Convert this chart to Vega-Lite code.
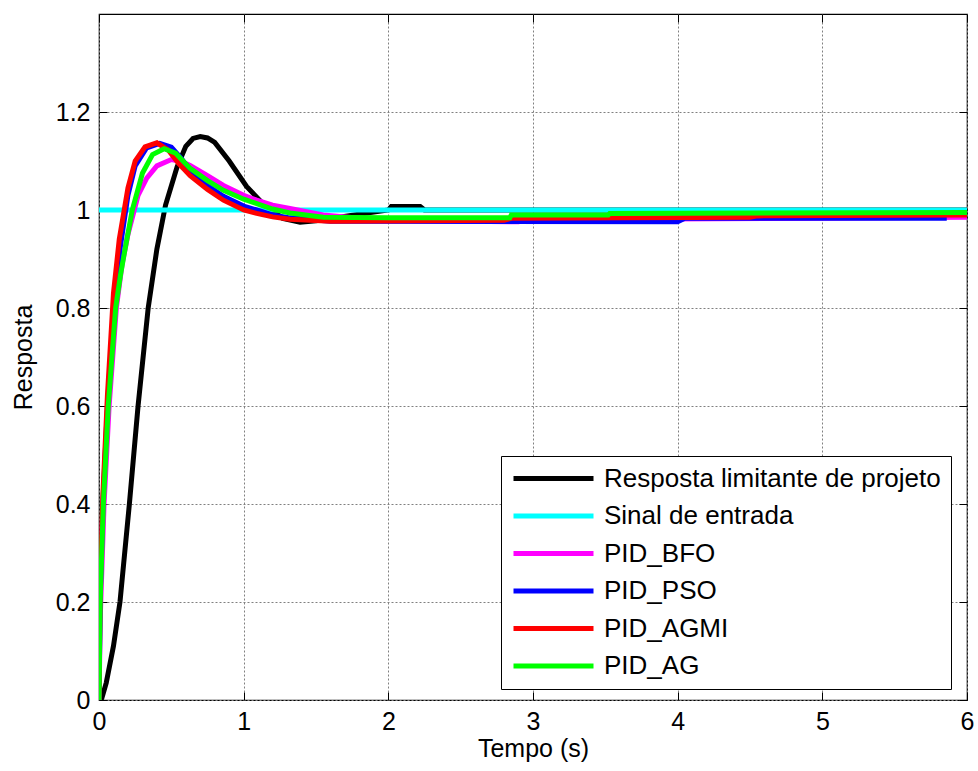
{
  "$schema": "https://vega.github.io/schema/vega-lite/v6.json",
  "width": 868,
  "height": 686,
  "autosize": {"type": "none"},
  "padding": {"left": 99, "top": 14, "right": 11, "bottom": 71},
  "background": "white",
  "config": {
    "font": "Liberation Sans",
    "view": {"stroke": "#000000", "strokeWidth": 1.2},
    "axis": {
      "labelFont": "Liberation Sans",
      "titleFont": "Liberation Sans",
      "labelFontSize": 25,
      "titleFontSize": 25,
      "labelColor": "#000000",
      "titleColor": "#000000",
      "titleFontWeight": "normal",
      "tickColor": "#000000",
      "domain": false,
      "gridColor": "#808080",
      "gridDash": [2, 2],
      "gridWidth": 1,
      "gridOpacity": 1
    }
  },
  "data": {
    "values": [
      {"s": "Resposta limitante de projeto", "t": 0, "v": 0},
      {"s": "Resposta limitante de projeto", "t": 0.02, "v": 0.004},
      {"s": "Resposta limitante de projeto", "t": 0.05, "v": 0.035},
      {"s": "Resposta limitante de projeto", "t": 0.1, "v": 0.11},
      {"s": "Resposta limitante de projeto", "t": 0.145, "v": 0.2},
      {"s": "Resposta limitante de projeto", "t": 0.21, "v": 0.4},
      {"s": "Resposta limitante de projeto", "t": 0.27, "v": 0.6},
      {"s": "Resposta limitante de projeto", "t": 0.34, "v": 0.8},
      {"s": "Resposta limitante de projeto", "t": 0.4, "v": 0.92},
      {"s": "Resposta limitante de projeto", "t": 0.46, "v": 1.01},
      {"s": "Resposta limitante de projeto", "t": 0.54, "v": 1.088},
      {"s": "Resposta limitante de projeto", "t": 0.6, "v": 1.13},
      {"s": "Resposta limitante de projeto", "t": 0.65, "v": 1.146},
      {"s": "Resposta limitante de projeto", "t": 0.7, "v": 1.15},
      {"s": "Resposta limitante de projeto", "t": 0.75, "v": 1.147},
      {"s": "Resposta limitante de projeto", "t": 0.8, "v": 1.138},
      {"s": "Resposta limitante de projeto", "t": 0.9, "v": 1.1},
      {"s": "Resposta limitante de projeto", "t": 1.02, "v": 1.048},
      {"s": "Resposta limitante de projeto", "t": 1.13, "v": 1.014},
      {"s": "Resposta limitante de projeto", "t": 1.27, "v": 0.983},
      {"s": "Resposta limitante de projeto", "t": 1.39, "v": 0.975},
      {"s": "Resposta limitante de projeto", "t": 1.5, "v": 0.978},
      {"s": "Resposta limitante de projeto", "t": 1.65, "v": 0.985},
      {"s": "Resposta limitante de projeto", "t": 1.83, "v": 0.993},
      {"s": "Resposta limitante de projeto", "t": 2.0, "v": 1.0},
      {"s": "Resposta limitante de projeto", "t": 2.02, "v": 1.007},
      {"s": "Resposta limitante de projeto", "t": 2.22, "v": 1.007},
      {"s": "Resposta limitante de projeto", "t": 2.25, "v": 1.0},
      {"s": "Resposta limitante de projeto", "t": 6, "v": 1.0},
      {"s": "Sinal de entrada", "t": 0, "v": 1},
      {"s": "Sinal de entrada", "t": 6, "v": 1},
      {"s": "PID_BFO", "t": 0, "v": 0},
      {"s": "PID_BFO", "t": 0.01, "v": 0.18},
      {"s": "PID_BFO", "t": 0.035, "v": 0.4},
      {"s": "PID_BFO", "t": 0.07, "v": 0.6},
      {"s": "PID_BFO", "t": 0.12, "v": 0.8},
      {"s": "PID_BFO", "t": 0.16, "v": 0.89},
      {"s": "PID_BFO", "t": 0.2, "v": 0.95},
      {"s": "PID_BFO", "t": 0.27, "v": 1.03},
      {"s": "PID_BFO", "t": 0.33, "v": 1.065},
      {"s": "PID_BFO", "t": 0.4, "v": 1.09},
      {"s": "PID_BFO", "t": 0.5, "v": 1.103},
      {"s": "PID_BFO", "t": 0.57, "v": 1.099},
      {"s": "PID_BFO", "t": 0.63, "v": 1.091},
      {"s": "PID_BFO", "t": 0.75, "v": 1.07},
      {"s": "PID_BFO", "t": 0.86, "v": 1.05},
      {"s": "PID_BFO", "t": 1.0, "v": 1.03},
      {"s": "PID_BFO", "t": 1.09, "v": 1.02},
      {"s": "PID_BFO", "t": 1.2, "v": 1.01},
      {"s": "PID_BFO", "t": 1.32, "v": 1.003},
      {"s": "PID_BFO", "t": 1.55, "v": 0.99},
      {"s": "PID_BFO", "t": 1.8, "v": 0.983},
      {"s": "PID_BFO", "t": 2.0, "v": 0.979},
      {"s": "PID_BFO", "t": 2.9, "v": 0.976},
      {"s": "PID_BFO", "t": 2.95, "v": 0.98},
      {"s": "PID_BFO", "t": 6, "v": 0.985},
      {"s": "PID_PSO", "t": 0, "v": 0},
      {"s": "PID_PSO", "t": 0.008, "v": 0.21},
      {"s": "PID_PSO", "t": 0.028, "v": 0.41},
      {"s": "PID_PSO", "t": 0.06, "v": 0.61},
      {"s": "PID_PSO", "t": 0.105, "v": 0.81},
      {"s": "PID_PSO", "t": 0.145, "v": 0.92},
      {"s": "PID_PSO", "t": 0.2, "v": 1.03},
      {"s": "PID_PSO", "t": 0.25, "v": 1.09},
      {"s": "PID_PSO", "t": 0.33, "v": 1.127},
      {"s": "PID_PSO", "t": 0.42, "v": 1.136},
      {"s": "PID_PSO", "t": 0.5, "v": 1.128},
      {"s": "PID_PSO", "t": 0.57, "v": 1.105},
      {"s": "PID_PSO", "t": 0.63, "v": 1.08},
      {"s": "PID_PSO", "t": 0.75, "v": 1.05},
      {"s": "PID_PSO", "t": 0.86, "v": 1.028},
      {"s": "PID_PSO", "t": 1.0, "v": 1.008},
      {"s": "PID_PSO", "t": 1.09, "v": 1.0},
      {"s": "PID_PSO", "t": 1.2, "v": 0.99},
      {"s": "PID_PSO", "t": 1.32, "v": 0.984},
      {"s": "PID_PSO", "t": 1.6, "v": 0.977},
      {"s": "PID_PSO", "t": 4.0, "v": 0.976},
      {"s": "PID_PSO", "t": 4.05, "v": 0.983},
      {"s": "PID_PSO", "t": 5.86, "v": 0.983},
      {"s": "PID_AGMI", "t": 0, "v": 0},
      {"s": "PID_AGMI", "t": 0.007, "v": 0.22},
      {"s": "PID_AGMI", "t": 0.027, "v": 0.42},
      {"s": "PID_AGMI", "t": 0.058, "v": 0.62},
      {"s": "PID_AGMI", "t": 0.1, "v": 0.83},
      {"s": "PID_AGMI", "t": 0.14, "v": 0.94},
      {"s": "PID_AGMI", "t": 0.2, "v": 1.045},
      {"s": "PID_AGMI", "t": 0.25, "v": 1.1},
      {"s": "PID_AGMI", "t": 0.318, "v": 1.129},
      {"s": "PID_AGMI", "t": 0.4, "v": 1.137},
      {"s": "PID_AGMI", "t": 0.48, "v": 1.122},
      {"s": "PID_AGMI", "t": 0.55, "v": 1.095},
      {"s": "PID_AGMI", "t": 0.63, "v": 1.07},
      {"s": "PID_AGMI", "t": 0.75, "v": 1.042},
      {"s": "PID_AGMI", "t": 0.86, "v": 1.02},
      {"s": "PID_AGMI", "t": 1.0, "v": 1.0},
      {"s": "PID_AGMI", "t": 1.09, "v": 0.993},
      {"s": "PID_AGMI", "t": 1.2, "v": 0.986},
      {"s": "PID_AGMI", "t": 1.32, "v": 0.981},
      {"s": "PID_AGMI", "t": 1.6, "v": 0.977},
      {"s": "PID_AGMI", "t": 2.8, "v": 0.979},
      {"s": "PID_AGMI", "t": 2.85, "v": 0.983},
      {"s": "PID_AGMI", "t": 4.5, "v": 0.985},
      {"s": "PID_AGMI", "t": 4.55, "v": 0.988},
      {"s": "PID_AGMI", "t": 6, "v": 0.99},
      {"s": "PID_AG", "t": 0, "v": 0},
      {"s": "PID_AG", "t": 0.008, "v": 0.2},
      {"s": "PID_AG", "t": 0.03, "v": 0.4},
      {"s": "PID_AG", "t": 0.064, "v": 0.6},
      {"s": "PID_AG", "t": 0.115, "v": 0.8},
      {"s": "PID_AG", "t": 0.15, "v": 0.87},
      {"s": "PID_AG", "t": 0.18, "v": 0.92},
      {"s": "PID_AG", "t": 0.23, "v": 1.0},
      {"s": "PID_AG", "t": 0.3, "v": 1.075},
      {"s": "PID_AG", "t": 0.37, "v": 1.113},
      {"s": "PID_AG", "t": 0.45, "v": 1.125},
      {"s": "PID_AG", "t": 0.53, "v": 1.116},
      {"s": "PID_AG", "t": 0.63, "v": 1.085},
      {"s": "PID_AG", "t": 0.75, "v": 1.06},
      {"s": "PID_AG", "t": 0.86, "v": 1.04},
      {"s": "PID_AG", "t": 1.0, "v": 1.022},
      {"s": "PID_AG", "t": 1.1, "v": 1.012},
      {"s": "PID_AG", "t": 1.2, "v": 1.002},
      {"s": "PID_AG", "t": 1.32, "v": 0.994},
      {"s": "PID_AG", "t": 1.55, "v": 0.985},
      {"s": "PID_AG", "t": 2.0, "v": 0.984},
      {"s": "PID_AG", "t": 2.84, "v": 0.984},
      {"s": "PID_AG", "t": 2.85, "v": 0.99},
      {"s": "PID_AG", "t": 3.52, "v": 0.99},
      {"s": "PID_AG", "t": 3.53, "v": 0.993},
      {"s": "PID_AG", "t": 6, "v": 0.995}
    ]
  },
  "layer": [
    {
      "transform": [{"filter": "datum.s === 'Resposta limitante de projeto'"}],
      "mark": {"type": "line", "strokeWidth": 5, "clip": true},
      "encoding": {
        "x": {
          "field": "t", "type": "quantitative",
          "scale": {"domain": [0, 6], "nice": false, "zero": false},
          "axis": {
            "orient": "bottom", "title": "Tempo (s)", "values": [0, 1, 2, 3, 4, 5, 6],
            "format": "~g", "tickSize": -8, "labelPadding": 17, "titlePadding": 2,
            "grid": true, "labelFlush": false
          }
        },
        "y": {
          "field": "v", "type": "quantitative",
          "scale": {"domain": [0, 1.4], "nice": false, "zero": false},
          "axis": {
            "orient": "left", "title": "Resposta", "values": [0, 0.2, 0.4, 0.6, 0.8, 1, 1.2],
            "format": "~g", "tickSize": -8, "labelPadding": 17, "titlePadding": 19,
            "grid": true, "labelFlush": false
          }
        },
        "color": {
          "field": "s", "type": "nominal",
          "scale": {
            "domain": ["Resposta limitante de projeto", "Sinal de entrada", "PID_BFO", "PID_PSO", "PID_AGMI", "PID_AG"],
            "range": ["#000000", "#00FFFF", "#FF00FF", "#0000FF", "#FF0000", "#00FF00"]
          },
          "legend": {
            "orient": "none", "legendX": 402, "legendY": 442, "title": null,
            "symbolType": "stroke", "symbolSize": 6400, "symbolStrokeWidth": 5,
            "labelFont": "Liberation Sans", "labelFontSize": 26, "labelColor": "#000000",
            "labelLimit": 500, "labelOffset": 8, "clipHeight": 25, "rowPadding": 10.5,
            "padding": 10, "strokeColor": "#000000", "fillColor": "#FFFFFF", "cornerRadius": 0
          }
        }
      }
    },
    {
      "transform": [{"filter": "datum.s === 'Sinal de entrada'"}],
      "mark": {"type": "line", "strokeWidth": 5, "clip": true},
      "encoding": {
        "x": {"field": "t", "type": "quantitative", "axis": null},
        "y": {"field": "v", "type": "quantitative", "axis": null},
        "color": {"field": "s", "type": "nominal"}
      }
    },
    {
      "transform": [{"filter": "datum.s === 'PID_BFO'"}],
      "mark": {"type": "line", "strokeWidth": 5, "clip": true},
      "encoding": {
        "x": {"field": "t", "type": "quantitative", "axis": null},
        "y": {"field": "v", "type": "quantitative", "axis": null},
        "color": {"field": "s", "type": "nominal"}
      }
    },
    {
      "transform": [{"filter": "datum.s === 'PID_PSO'"}],
      "mark": {"type": "line", "strokeWidth": 5, "clip": true},
      "encoding": {
        "x": {"field": "t", "type": "quantitative", "axis": null},
        "y": {"field": "v", "type": "quantitative", "axis": null},
        "color": {"field": "s", "type": "nominal"}
      }
    },
    {
      "transform": [{"filter": "datum.s === 'PID_AGMI'"}],
      "mark": {"type": "line", "strokeWidth": 5, "clip": true},
      "encoding": {
        "x": {"field": "t", "type": "quantitative", "axis": null},
        "y": {"field": "v", "type": "quantitative", "axis": null},
        "color": {"field": "s", "type": "nominal"}
      }
    },
    {
      "transform": [{"filter": "datum.s === 'PID_AG'"}],
      "mark": {"type": "line", "strokeWidth": 5, "clip": true},
      "encoding": {
        "x": {"field": "t", "type": "quantitative", "axis": null},
        "y": {"field": "v", "type": "quantitative", "axis": null},
        "color": {"field": "s", "type": "nominal"}
      }
    },
    {
      "transform": [{"filter": "datum.s === 'Sinal de entrada'"}],
      "mark": {"type": "point", "opacity": 0},
      "encoding": {
        "x": {
          "field": "t", "type": "quantitative",
          "axis": {"orient": "top", "title": null, "labels": false, "grid": false, "values": [0, 1, 2, 3, 4, 5, 6], "tickSize": -8}
        },
        "y": {
          "field": "v", "type": "quantitative",
          "axis": {"orient": "right", "title": null, "labels": false, "grid": false, "values": [0, 0.2, 0.4, 0.6, 0.8, 1, 1.2], "tickSize": -8}
        }
      }
    }
  ],
  "resolve": {"axis": {"x": "independent", "y": "independent"}}
}
